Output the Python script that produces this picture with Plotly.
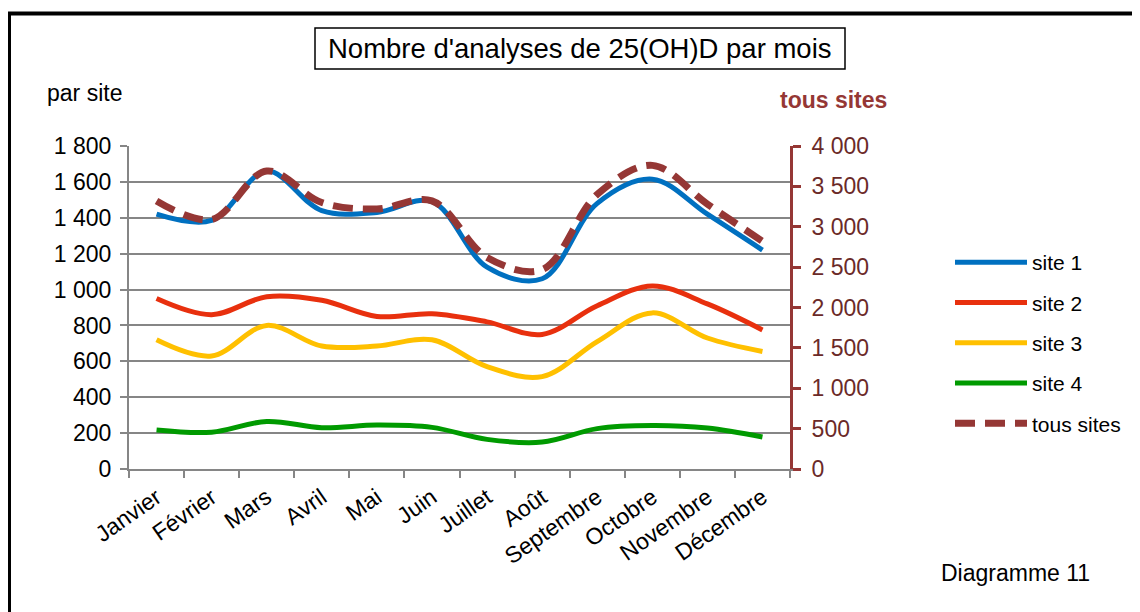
import plotly.graph_objects as go

months = ["Janvier", "Février", "Mars", "Avril", "Mai", "Juin", "Juillet",
          "Août", "Septembre", "Octobre", "Novembre", "Décembre"]
site1 = [1420, 1385, 1660, 1440, 1430, 1490, 1125, 1060, 1480, 1615, 1420, 1220]
site2 = [950, 860, 960, 940, 850, 865, 820, 750, 910, 1020, 920, 775]
site3 = [720, 630, 800, 685, 685, 720, 570, 515, 710, 870, 730, 655]
site4 = [217, 205, 265, 230, 245, 232, 165, 150, 225, 242, 228, 178]
tous_sites = [3320, 3090, 3690, 3300, 3220, 3320, 2620, 2470, 3400, 3760, 3280, 2820]

left_ticks = [0, 200, 400, 600, 800, 1000, 1200, 1400, 1600, 1800]
right_ticks = [0, 500, 1000, 1500, 2000, 2500, 3000, 3500, 4000]

BROWN = "#953735"
GRAY = "#868686"

# page offset (browser body margin)
OFF = 8
# plot area in screen pixels
L, R, T, B = 129, 790, 146, 469
W, H = 1140 - OFF, 612 - OFF


def px(x):
    return (x - L) / (R - L)


def py(y):
    return (B - y) / (B - T)


fig = go.Figure()
series = [("site 1", site1, "#0070C0"), ("site 2", site2, "#E8300E"),
          ("site 3", site3, "#FFC000"), ("site 4", site4, "#009A00")]
for i, (name, vals, col) in enumerate(series):
    fig.add_trace(go.Scatter(x=months, y=vals, name=name, mode="lines",
                             line=dict(color=col, width=5, shape="spline", smoothing=1),
                             legendgroup=f"g{i}"))
fig.add_trace(go.Scatter(x=months, y=tous_sites, name="tous sites", mode="lines",
                         yaxis="y2", legendgroup="g5",
                         line=dict(color=BROWN, width=7, shape="spline", smoothing=1,
                                   dash="20px,10px")))

fig.update_layout(
    width=W, height=H,
    margin=dict(l=L - OFF, r=1140 - R, t=T - OFF, b=612 - B),
    paper_bgcolor="white", plot_bgcolor="white",
    font=dict(family="Liberation Sans, Arial, sans-serif", size=23, color="black"),
    separators=", ",
    xaxis=dict(type="category", range=[-0.5, 11.5], tickson="boundaries",
               ticks="outside", ticklen=7, tickwidth=2, tickcolor=GRAY,
               showline=True, linecolor=GRAY, linewidth=2, showgrid=False,
               tickangle=-35, tickfont=dict(size=23), ticklabelstandoff=4),
    yaxis=dict(range=[0, 1800], tickvals=left_ticks, tickformat=",d",
               ticks="outside", ticklen=7, tickwidth=2, tickcolor=GRAY,
               showline=True, linecolor=GRAY, linewidth=2,
               showgrid=True, gridcolor=GRAY, gridwidth=2, zeroline=False,
               tickfont=dict(size=23), ticklabelstandoff=4),
    yaxis2=dict(range=[0, 4000], tickvals=right_ticks, tickformat=",d",
                overlaying="y", side="right",
                ticks="outside", ticklen=8, tickwidth=3, tickcolor=BROWN,
                showline=True, linecolor=BROWN, linewidth=3, showgrid=False,
                zeroline=False, tickfont=dict(size=23, color="#6B2A28"),
                ticklabelstandoff=6),
    showlegend=True,
    legend=dict(x=px(950), y=py(242), xanchor="left", yanchor="top",
                font=dict(size=21, color="black"), tracegroupgap=10,
                itemwidth=72, bgcolor="rgba(0,0,0,0)"),
)

shapes = [
    # outer frame
    dict(type="rect", xref="paper", yref="paper", x0=px(9), x1=px(1170),
         y0=py(650), y1=py(13.5), line=dict(color="black", width=4)),
    # title box
    dict(type="rect", xref="paper", yref="paper", x0=px(315), x1=px(845),
         y0=py(69), y1=py(28), line=dict(color="black", width=1.5)),
]
fig.update_layout(shapes=shapes)

fig.add_annotation(text="Nombre d'analyses de 25(OH)D par mois", xref="paper", yref="paper",
                   x=px(580), y=py(48.5), showarrow=False, xanchor="center", yanchor="middle",
                   font=dict(size=27.5, color="black"))
fig.add_annotation(text="par site", xref="paper", yref="paper",
                   x=px(45), y=py(93), showarrow=False, xanchor="left", yanchor="middle",
                   font=dict(size=23, color="black"))
fig.add_annotation(text="<b>tous sites</b>", xref="paper", yref="paper",
                   x=px(833), y=py(100), showarrow=False, xanchor="center", yanchor="middle",
                   font=dict(size=23, color=BROWN))
fig.add_annotation(text="Diagramme 11", xref="paper", yref="paper",
                   x=px(939), y=py(573), showarrow=False, xanchor="left", yanchor="middle",
                   font=dict(size=23, color="black"))

fig.write_html("out.html")
